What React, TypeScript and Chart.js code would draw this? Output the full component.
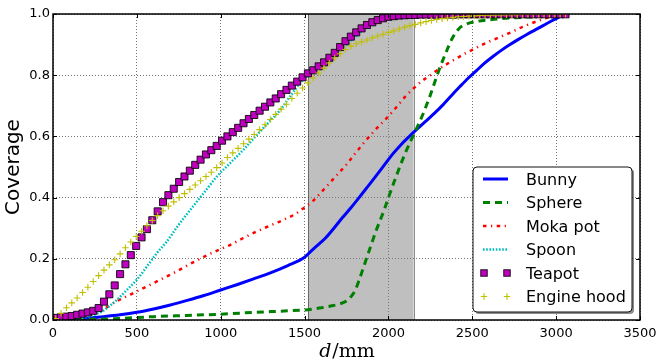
import React, { useEffect, useRef } from "react";
import { Chart, registerables } from "chart.js";

Chart.register(...registerables);

// ---------- data ----------
const SERIES_NAMES = ["Bunny", "Sphere", "Moka pot", "Spoon", "Teapot", "Engine hood"];

const X_TICK_STEP = 500;
const Y_TICK_STEP = 0.2;
const X_RANGE = [0, 3500];
const Y_RANGE = [0, 1];
const SPAN = [1520, 2150];
const X_TITLE_ITALIC = "d";
const X_TITLE_REST = "/mm";
const Y_TITLE = "Coverage";

const bunnyD = [0, 100, 200, 300, 400, 500, 600, 700, 800, 900, 1000, 1100, 1200, 1300, 1400, 1500, 1525, 1575, 1625, 1675, 1725, 1775, 1825, 1875, 1925, 1975, 2025, 2075, 2125, 2175, 2225, 2275, 2325, 2375, 2425, 2475, 2525, 2575, 2625, 2675, 2725, 2775, 2825, 2875, 2925, 2975, 3025, 3050];
const bunnyC = [0, 0.002, 0.006, 0.011, 0.017, 0.025, 0.036, 0.049, 0.064, 0.08, 0.098, 0.116, 0.135, 0.155, 0.178, 0.205, 0.218, 0.243, 0.268, 0.3, 0.334, 0.366, 0.4, 0.435, 0.47, 0.506, 0.542, 0.573, 0.6, 0.626, 0.651, 0.676, 0.703, 0.733, 0.762, 0.79, 0.815, 0.84, 0.862, 0.882, 0.9, 0.917, 0.933, 0.948, 0.963, 0.978, 0.992, 1.0];

const sphereD = [0, 200, 400, 600, 800, 1000, 1200, 1400, 1500, 1550, 1600, 1650, 1700, 1750, 1775, 1800, 1825, 1850, 1875, 1900, 1925, 1950, 1975, 2000, 2050, 2100, 2150, 2200, 2250, 2300, 2340, 2380, 2420, 2460, 2520, 2600, 2700, 2800, 2900, 3000];
const sphereC = [0, 0.002, 0.005, 0.011, 0.015, 0.019, 0.025, 0.03, 0.033, 0.036, 0.04, 0.045, 0.051, 0.062, 0.075, 0.095, 0.13, 0.17, 0.21, 0.25, 0.29, 0.325, 0.36, 0.4, 0.475, 0.545, 0.605, 0.665, 0.735, 0.815, 0.87, 0.92, 0.952, 0.966, 0.975, 0.981, 0.986, 0.989, 0.993, 1.0];

const mokaD = [0, 100, 200, 300, 368, 450, 539, 630, 717, 800, 877, 960, 1055, 1135, 1214, 1300, 1373, 1450, 1500, 1552, 1600, 1650, 1700, 1750, 1800, 1850, 1900, 1950, 2000, 2050, 2100, 2150, 2200, 2250, 2300, 2350, 2400, 2450, 2500, 2550, 2600, 2650, 2700, 2750, 2800, 2850, 2900, 2950, 3000, 3050];
const mokaC = [0, 0.006, 0.016, 0.035, 0.058, 0.08, 0.104, 0.129, 0.153, 0.178, 0.2, 0.222, 0.245, 0.268, 0.289, 0.31, 0.327, 0.348, 0.368, 0.39, 0.418, 0.448, 0.478, 0.508, 0.543, 0.577, 0.608, 0.638, 0.666, 0.697, 0.73, 0.757, 0.781, 0.8, 0.82, 0.837, 0.853, 0.869, 0.883, 0.897, 0.91, 0.921, 0.933, 0.945, 0.958, 0.969, 0.979, 0.988, 0.995, 1.0];

const spoonD = [0, 100, 200, 300, 320, 380, 440, 499, 559, 618, 678, 748, 817, 897, 976, 1055, 1135, 1214, 1290, 1354, 1413, 1473, 1520, 1600, 1700, 1780, 1850, 1900, 1950, 2000, 2100, 2300, 2600, 3000];
const spoonC = [0, 0.003, 0.01, 0.03, 0.038, 0.065, 0.098, 0.131, 0.174, 0.218, 0.256, 0.31, 0.359, 0.414, 0.468, 0.512, 0.556, 0.604, 0.648, 0.686, 0.73, 0.774, 0.8, 0.832, 0.878, 0.915, 0.948, 0.966, 0.978, 0.987, 0.994, 0.998, 0.999, 1.0];

const markerD = [
  16, 48, 80, 112, 144, 176, 208, 240,
  272, 304, 336, 368, 400, 432, 464, 496,
  528, 560, 592, 624, 656, 688, 720, 752,
  784, 816, 848, 880, 912, 944, 976, 1008,
  1040, 1072, 1104, 1136, 1168, 1200, 1232, 1264,
  1296, 1328, 1360, 1392, 1424, 1456, 1488, 1520,
  1552, 1584, 1616, 1648, 1680, 1712, 1744, 1776,
  1808, 1840, 1872, 1904, 1936, 1968, 2000, 2032,
  2064, 2096, 2128, 2160, 2192, 2224, 2256, 2288,
  2320, 2352, 2384, 2416, 2448, 2480, 2512, 2544,
  2576, 2608, 2640, 2672, 2704, 2736, 2768, 2800,
  2832, 2864, 2896, 2928, 2960, 2992, 3024, 3056,
];
const teapotC = [
  0.007, 0.009, 0.011, 0.013, 0.017, 0.021, 0.025, 0.03,
  0.039, 0.06, 0.084, 0.113, 0.15, 0.182, 0.212, 0.242,
  0.27, 0.297, 0.326, 0.355, 0.385, 0.408, 0.429, 0.451,
  0.469, 0.488, 0.507, 0.524, 0.541, 0.555, 0.569, 0.586,
  0.6, 0.614, 0.628, 0.643, 0.657, 0.67, 0.684, 0.697,
  0.711, 0.724, 0.738, 0.752, 0.766, 0.779, 0.793, 0.806,
  0.816, 0.829, 0.842, 0.857, 0.873, 0.892, 0.911, 0.926,
  0.94, 0.953, 0.964, 0.973, 0.98, 0.986, 0.991, 0.993,
  0.995, 0.996, 0.997, 0.997, 0.998, 0.998, 0.998, 0.998,
  0.998, 0.998, 0.998, 0.999, 0.999, 0.999, 0.999, 0.999,
  0.999, 0.999, 0.999, 0.999, 0.999, 0.999, 0.999, 0.999,
  0.999, 0.999, 0.999, 0.999, 0.999, 0.999, 0.999, 0.999,
];
const engineC = [
  0.005, 0.022, 0.04, 0.056, 0.072, 0.09, 0.107, 0.126,
  0.145, 0.163, 0.18, 0.197, 0.216, 0.236, 0.255, 0.273,
  0.29, 0.308, 0.325, 0.341, 0.357, 0.372, 0.386, 0.4,
  0.413, 0.427, 0.441, 0.455, 0.469, 0.483, 0.498, 0.513,
  0.531, 0.546, 0.561, 0.576, 0.591, 0.606, 0.622, 0.638,
  0.655, 0.672, 0.689, 0.705, 0.724, 0.741, 0.758, 0.775,
  0.791, 0.807, 0.823, 0.84, 0.856, 0.87, 0.884, 0.895,
  0.903, 0.909, 0.915, 0.922, 0.928, 0.934, 0.94, 0.945,
  0.951, 0.957, 0.962, 0.966, 0.971, 0.975, 0.979, 0.982,
  0.985, 0.987, 0.989, 0.991, 0.992, 0.993, 0.994, 0.995,
  0.996, 0.996, 0.997, 0.997, 0.998, 0.998, 0.998, 0.999,
  0.999, 0.999, 0.999, 1.0, 1.0, 1.0, 1.0, 1.0,
];

// ---------- helpers ----------
const pts = (xs: number[], ys: number[]) => xs.map((x, i) => ({ x, y: ys[i] }));

type Style = {
  kind: "line" | "square" | "plus";
  color: string;
  width: number;
  dash: number[];
};

const STYLES: Style[] = [
  { kind: "line", color: "#0000ff", width: 3, dash: [] },
  { kind: "line", color: "#008000", width: 3, dash: [7, 5] },
  { kind: "line", color: "#ff0000", width: 2.5, dash: [3.5, 4.5, 1.2, 4.5] },
  { kind: "line", color: "#00bfbf", width: 2.5, dash: [1.6, 1.6] },
  { kind: "square", color: "#bf00bf", width: 1, dash: [] },
  { kind: "plus", color: "#bfbf00", width: 1, dash: [] },
];

function drawSquare(ctx: CanvasRenderingContext2D, x: number, y: number, s: number, fill: string) {
  ctx.fillStyle = fill;
  ctx.strokeStyle = "rgba(0,0,0,0.85)";
  ctx.lineWidth = 1;
  ctx.setLineDash([]);
  ctx.fillRect(x - s / 2, y - s / 2, s, s);
  ctx.strokeRect(x - s / 2, y - s / 2, s, s);
}

function drawPlus(ctx: CanvasRenderingContext2D, x: number, y: number, r: number, color: string) {
  ctx.strokeStyle = color;
  ctx.lineWidth = 1.1;
  ctx.setLineDash([]);
  ctx.beginPath();
  ctx.moveTo(x - r, y);
  ctx.lineTo(x + r, y);
  ctx.moveTo(x, y - r);
  ctx.lineTo(x, y + r);
  ctx.stroke();
}

function roundRectPath(ctx: CanvasRenderingContext2D, x: number, y: number, w: number, h: number, r: number) {
  ctx.beginPath();
  ctx.moveTo(x + r, y);
  ctx.lineTo(x + w - r, y);
  ctx.arcTo(x + w, y, x + w, y + r, r);
  ctx.lineTo(x + w, y + h - r);
  ctx.arcTo(x + w, y + h, x + w - r, y + h, r);
  ctx.lineTo(x + r, y + h);
  ctx.arcTo(x, y + h, x, y + h - r, r);
  ctx.lineTo(x, y + r);
  ctx.arcTo(x, y, x + r, y, r);
  ctx.closePath();
}

const spanPlugin = {
  id: "span",
  beforeDatasetsDraw(chart: any) {
    const { ctx, chartArea, scales } = chart;
    const x1 = scales.x.getPixelForValue(SPAN[0]);
    const x2 = scales.x.getPixelForValue(SPAN[1]);
    ctx.save();
    ctx.fillStyle = "rgba(128,128,128,0.5)";
    ctx.fillRect(x1, chartArea.top, x2 - x1, chartArea.bottom - chartArea.top);
    ctx.strokeStyle = "rgba(0,0,0,0.45)";
    ctx.lineWidth = 1;
    ctx.beginPath();
    ctx.moveTo(Math.round(x1) + 0.5, chartArea.top);
    ctx.lineTo(Math.round(x1) + 0.5, chartArea.bottom);
    ctx.moveTo(Math.round(x2) + 0.5, chartArea.top);
    ctx.lineTo(Math.round(x2) + 0.5, chartArea.bottom);
    ctx.stroke();
    ctx.restore();
  },
};

const framePlugin = {
  id: "frame",
  afterDatasetsDraw(chart: any) {
    const { ctx, chartArea, scales } = chart;
    const { left, right, top, bottom } = chartArea;
    ctx.save();
    // tick marks (inside)
    ctx.strokeStyle = "#000";
    ctx.lineWidth = 1;
    ctx.setLineDash([]);
    ctx.beginPath();
    for (let v = X_RANGE[0]; v <= X_RANGE[1] + 1e-9; v += X_TICK_STEP) {
      const px = Math.round(scales.x.getPixelForValue(v)) + 0.5;
      ctx.moveTo(px, bottom);
      ctx.lineTo(px, bottom - 4);
      ctx.moveTo(px, top);
      ctx.lineTo(px, top + 4);
    }
    for (let v = Y_RANGE[0]; v <= Y_RANGE[1] + 1e-9; v += Y_TICK_STEP) {
      const py = Math.round(scales.y.getPixelForValue(v)) + 0.5;
      ctx.moveTo(left, py);
      ctx.lineTo(left + 4, py);
      ctx.moveTo(right, py);
      ctx.lineTo(right - 4, py);
    }
    ctx.stroke();
    // spines
    ctx.lineWidth = 1.5;
    ctx.strokeRect(left, top, right - left, bottom - top);

    // legend
    const w = 159;
    const h = 145;
    const lx = right - 8 - w;
    const ly = bottom - 8 - h;
    ctx.fillStyle = "rgba(0,0,0,0.45)";
    roundRectPath(ctx, lx + 2, ly + 2, w, h, 4);
    ctx.fill();
    ctx.fillStyle = "#fff";
    roundRectPath(ctx, lx, ly, w, h, 4);
    ctx.fill();
    ctx.strokeStyle = "#111";
    ctx.lineWidth = 1;
    ctx.stroke();
    ctx.font = "16px 'DejaVu Sans'";
    ctx.textAlign = "left";
    ctx.textBaseline = "alphabetic";
    SERIES_NAMES.forEach((name, i) => {
      const st = STYLES[i];
      const ry = ly + 12 + i * 23.5;
      const sx1 = lx + 10;
      const sx2 = lx + 35;
      if (st.kind === "line") {
        ctx.strokeStyle = st.color;
        ctx.lineWidth = st.width;
        ctx.setLineDash(st.dash);
        ctx.beginPath();
        ctx.moveTo(sx1, ry);
        ctx.lineTo(sx2, ry);
        ctx.stroke();
        ctx.setLineDash([]);
      } else if (st.kind === "square") {
        drawSquare(ctx, sx1 + 1, ry, 6.5, st.color);
        drawSquare(ctx, sx2 - 1, ry, 6.5, st.color);
      } else {
        drawPlus(ctx, sx1 + 1, ry, 3.2, st.color);
        drawPlus(ctx, sx2 - 1, ry, 3.2, st.color);
      }
      ctx.fillStyle = "#000";
      ctx.fillText(name, lx + 53, ry + 5.5);
    });
    ctx.restore();
  },
  afterDraw(chart: any) {
    const { ctx, chartArea } = chart;
    ctx.save();
    ctx.fillStyle = "#000";
    // y title
    ctx.translate(18.5, (chartArea.top + chartArea.bottom) / 2);
    ctx.rotate(-Math.PI / 2);
    ctx.font = "20px 'DejaVu Sans'";
    ctx.textAlign = "center";
    ctx.textBaseline = "alphabetic";
    ctx.fillText(Y_TITLE, 0, 0);
    ctx.restore();
    // x title
    ctx.save();
    ctx.fillStyle = "#000";
    ctx.textAlign = "left";
    ctx.textBaseline = "alphabetic";
    const fontIt = "italic 19px 'DejaVu Serif'";
    const fontRm = "19px 'DejaVu Serif'";
    ctx.font = fontIt;
    const w1 = ctx.measureText(X_TITLE_ITALIC).width;
    ctx.font = fontRm;
    const w2 = ctx.measureText(X_TITLE_REST).width;
    const cx = (chartArea.left + chartArea.right) / 2;
    const x0 = cx - (w1 + w2) / 2;
    const by = chartArea.bottom + 37;
    ctx.font = fontIt;
    ctx.fillText(X_TITLE_ITALIC, x0, by);
    ctx.font = fontRm;
    ctx.fillText(X_TITLE_REST, x0 + w1 + 1, by);
    ctx.restore();
  },
};

export default function App() {
  const ref = useRef<HTMLCanvasElement>(null);

  useEffect(() => {
    const canvas = ref.current;
    if (!canvas) return;
    Chart.defaults.font.family = "'DejaVu Sans', sans-serif";
    Chart.defaults.color = "#000";

    const lineDs = (i: number, xs: number[], ys: number[], order: number) => ({
      label: SERIES_NAMES[i],
      data: pts(xs, ys),
      borderColor: STYLES[i].color,
      backgroundColor: STYLES[i].color,
      borderWidth: STYLES[i].width,
      borderDash: STYLES[i].dash,
      borderCapStyle: "butt",
      borderJoinStyle: "round",
      pointRadius: 0,
      cubicInterpolationMode: "monotone",
      fill: false,
      order,
    });

    const datasets: any[] = [
      lineDs(0, bunnyD, bunnyC, 6),
      lineDs(1, sphereD, sphereC, 5),
      lineDs(2, mokaD, mokaC, 4),
      lineDs(3, spoonD, spoonC, 3),
      {
        label: SERIES_NAMES[4],
        data: pts(markerD, teapotC),
        showLine: false,
        pointStyle: "rect",
        pointRadius: 5,
        pointBackgroundColor: STYLES[4].color,
        pointBorderColor: "rgba(0,0,0,0.85)",
        pointBorderWidth: 1,
        order: 2,
      },
      {
        label: SERIES_NAMES[5],
        data: pts(markerD, engineC),
        showLine: false,
        pointStyle: "cross",
        pointRadius: 3.3,
        pointBackgroundColor: STYLES[5].color,
        pointBorderColor: STYLES[5].color,
        pointBorderWidth: 1.1,
        order: 1,
      },
    ];

    const chart = new Chart(canvas, {
      type: "line",
      data: { datasets },
      options: {
        responsive: false,
        animation: false,
        devicePixelRatio: 1,
        events: [],
        layout: { padding: { left: 0, top: 14, right: 24, bottom: 0 } },
        plugins: {
          legend: { display: false },
          tooltip: { enabled: false },
          title: { display: false },
        },
        scales: {
          x: {
            type: "linear",
            min: X_RANGE[0],
            max: X_RANGE[1],
            grid: { color: "rgba(0,0,0,0.55)", lineWidth: 1, drawTicks: false },
            border: { display: false, dash: [1, 2] },
            ticks: {
              stepSize: X_TICK_STEP,
              padding: 6,
              font: { family: "'DejaVu Sans'", size: 13 },
              color: "#000",
              maxRotation: 0,
              callback: (v: any) => String(v),
            },
            afterFit: (s: any) => {
              s.height = 44;
            },
          },
          y: {
            type: "linear",
            min: Y_RANGE[0],
            max: Y_RANGE[1],
            grid: { color: "rgba(0,0,0,0.55)", lineWidth: 1, drawTicks: false },
            border: { display: false, dash: [1, 2] },
            ticks: {
              stepSize: Y_TICK_STEP,
              padding: 3,
              font: { family: "'DejaVu Sans'", size: 13 },
              color: "#000",
              callback: (v: any) => Number(v).toFixed(1),
            },
            afterFit: (s: any) => {
              s.width = 53;
            },
          },
        },
      } as any,
      plugins: [spanPlugin, framePlugin],
    });

    return () => chart.destroy();
  }, []);

  return (
    <div style={{ position: "fixed", left: 0, top: 0, width: 664, height: 364, background: "#fff" }}>
      <canvas ref={ref} width={664} height={364} style={{ display: "block", width: 664, height: 364 }} />
    </div>
  );
}
